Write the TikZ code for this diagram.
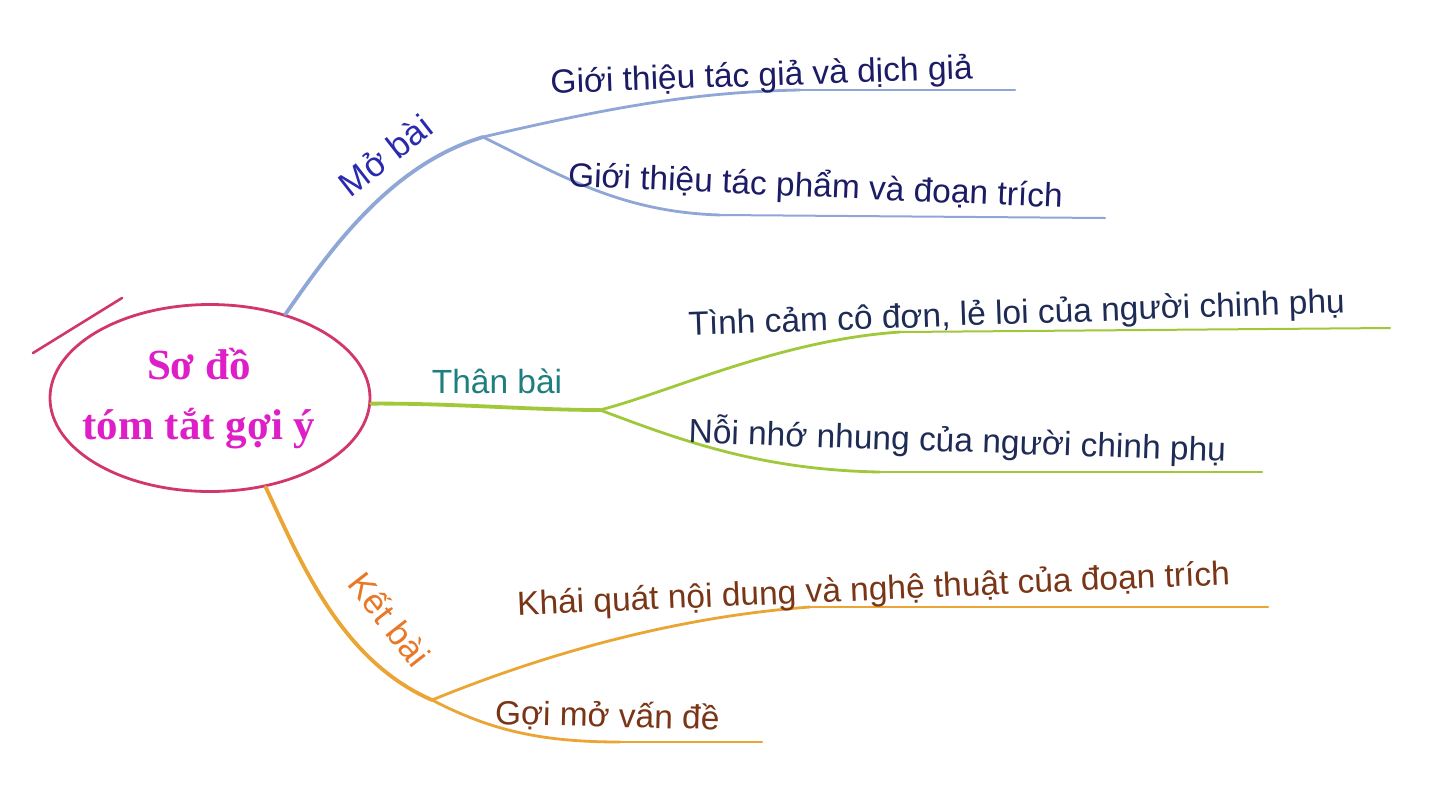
\documentclass[tikz,border=0pt]{standalone}
\usepackage{fontspec}
\setmainfont{Liberation Sans}
\newfontfamily\centerserif{Liberation Serif}
\usetikzlibrary{shapes.geometric}
\definecolor{ellcol}{HTML}{D2366E}
\definecolor{ctext}{HTML}{DE1FC8}
\definecolor{mbline}{HTML}{8FA7D7}
\definecolor{mbtext}{HTML}{2A2AB0}
\definecolor{mbsub}{HTML}{1C1C66}
\definecolor{tbline}{HTML}{A0C83A}
\definecolor{tbtext}{HTML}{1F7F80}
\definecolor{tbsub}{HTML}{1E2B55}
\definecolor{kbline}{HTML}{EBA535}
\definecolor{kbtext}{HTML}{E87828}
\definecolor{kbsub}{HTML}{7A3516}
\begin{document}
\begin{tikzpicture}[x=1pt,y=-1pt,
  mainlbl/.style={font=\fontsize{34.5}{38}\selectfont, inner sep=0pt},
  leaf/.style={font=\fontsize{33.5}{37}\selectfont, inner sep=0pt, anchor=base},
  mainbr/.style={line width=3.8pt, line cap=round},
  subbr/.style={line width=2.8pt, line cap=round},
  tailbr/.style={line width=2pt, line cap=round},
  ellstyle/.style={draw=ellcol, line width=2.8pt, ellipse, minimum width=320pt, minimum height=187pt, inner sep=0pt},
  centertxt/.style={font=\centerserif\bfseries\fontsize{43}{60}\selectfont, text=ctext, align=center, inner sep=0pt}
]
\useasboundingbox[fill=white] (0,0) rectangle (1431,796);

% center
\node[ellstyle] (c) at (210,398) {};
\node[centertxt] (ct) at (199,399) {Sơ đồ\\tóm tắt gợi ý};
\coordinate (s1) at (33,353);
\coordinate (s2) at (122,298);
\draw[ellcol, line width=2.6pt, line cap=round] (s1) -- (s2);

% branch points and ends
\coordinate (mb) at (483,137);
\coordinate (mb1) at (800,90);
\coordinate (mb1e) at (1015,90);
\coordinate (mb2) at (720,215);
\coordinate (mb2e) at (1105,218);
\coordinate (tb) at (600,410);
\coordinate (tb1) at (900,332);
\coordinate (tb1e) at (1390,328);
\coordinate (tb2) at (880,472);
\coordinate (tb2e) at (1262,472);
\coordinate (kb) at (432,700);
\coordinate (kb1) at (810,607);
\coordinate (kb1e) at (1268,607);
\coordinate (kb2) at (620,742);
\coordinate (kb2e) at (762,742);

% Mở bài
\draw[mainbr, mbline] (c.48) .. controls (330,250) and (390,165) .. (mb);
\draw[subbr, mbline] (mb) .. controls (620,105) and (700,92) .. (mb1);
\draw[tailbr, mbline] (mb1) -- (mb1e);
\draw[subbr, mbline] (mb) .. controls (560,175) and (620,212) .. (mb2);
\draw[tailbr, mbline] (mb2) -- (mb2e);
\node[mainlbl, text=mbtext, rotate=38] (lmb) at (385,155) {Mở bài};
\node[leaf, text=mbsub, rotate=2] (lmb1) at (762,86) {Giới thiệu tác giả và dịch giả};
\node[leaf, text=mbsub, rotate=-2.5] (lmb2) at (815,197) {Giới thiệu tác phẩm và đoạn trích};

% Thân bài
\draw[mainbr, tbline] (c.-2) .. controls (450,403) and (530,410) .. (tb);
\draw[subbr, tbline] (tb) .. controls (670,392) and (780,340) .. (tb1);
\draw[tailbr, tbline] (tb1) -- (tb1e);
\draw[subbr, tbline] (tb) .. controls (680,440) and (760,470) .. (tb2);
\draw[tailbr, tbline] (tb2) -- (tb2e);
\node[leaf, text=tbtext] (ltb) at (497,393) {Thân bài};
\node[leaf, text=tbsub, rotate=2] (ltb1) at (1017,324) {Tình cảm cô đơn, lẻ loi của người chinh phụ};
\node[leaf, text=tbsub, rotate=-2] (ltb2) at (957,452) {Nỗi nhớ nhung của người chinh phụ};

% Kết bài
\draw[mainbr, kbline] (c.-58) .. controls (300,560) and (340,660) .. (kb);
\draw[subbr, kbline] (kb) .. controls (525,662) and (660,618) .. (kb1);
\draw[tailbr, kbline] (kb1) -- (kb1e);
\draw[subbr, kbline] (kb) .. controls (490,730) and (540,742) .. (kb2);
\draw[tailbr, kbline] (kb2) -- (kb2e);
\node[mainlbl, text=kbtext, rotate=-52] (lkb) at (390,619) {Kết bài};
\node[leaf, text=kbsub, rotate=2.5] (lkb1) at (874,600) {Khái quát nội dung và nghệ thuật của đoạn trích};
\node[leaf, text=kbsub, rotate=-1.5] (lkb2) at (607,727) {Gợi mở vấn đề};
\end{tikzpicture}
\end{document}
